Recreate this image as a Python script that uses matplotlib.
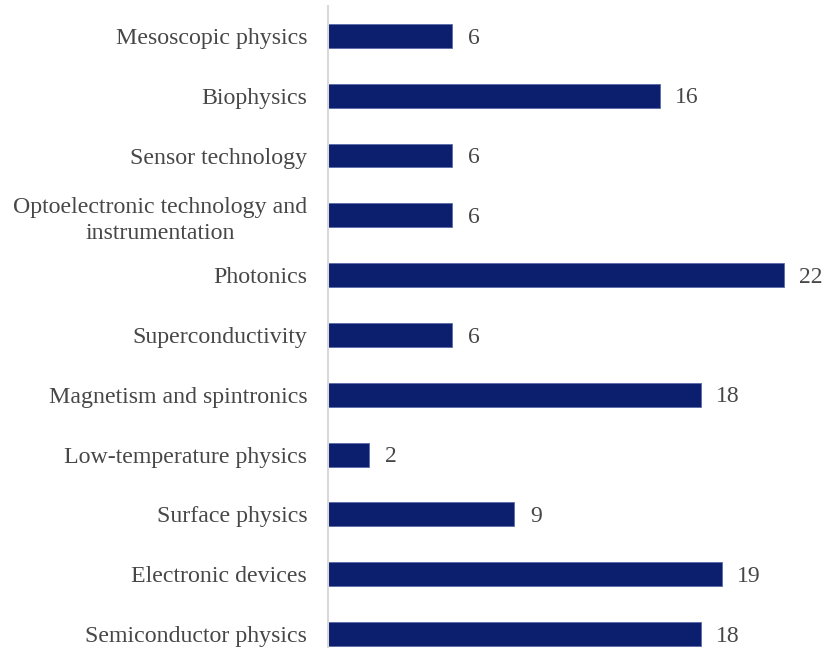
import matplotlib.pyplot as plt

plt.rcParams['font.family'] = ['Liberation Serif', 'DejaVu Serif']

# research fields, listed bottom to top
fields = [
    "Semiconductor physics",
    "Electronic devices",
    "Surface physics",
    "Low-temperature physics",
    "Magnetism and spintronics",
    "Superconductivity",
    "Photonics",
    "Optoelectronic technology and\ninstrumentation",
    "Sensor technology",
    "Biophysics",
    "Mesoscopic physics",
]
counts = [18, 19, 9, 2, 18, 6, 22, 6, 6, 16, 6]

bar_color = "#0C1F6E"
text_color = "#474747"

fig = plt.figure(figsize=(8.27, 6.48), dpi=100)
ax = fig.add_axes([0.3966, -0.0245, 0.6014, 1.0152])

pos = list(range(len(fields)))
ax.barh(pos, counts, height=0.4, color=bar_color,
        edgecolor="#5A6BA8", linewidth=0.6)

# value labels to the right of each bar
for y, c in zip(pos, counts):
    ax.annotate(str(c), (c, y), xytext=(11, -1.5), textcoords="offset points",
                ha="left", va="center", fontsize=17, color=text_color)

ax.set_xlim(0, 24)
ax.set_ylim(-0.5, len(fields) - 0.5)
ax.set_yticks(pos)
ax.set_yticklabels(fields, fontsize=17.2, color=text_color,
                   multialignment="center", linespacing=1.35)
ax.tick_params(axis="y", length=0, pad=15)
ax.set_xticks([])

for side in ["top", "right", "bottom"]:
    ax.spines[side].set_visible(False)
ax.spines["left"].set_color("#D9D9D9")
ax.spines["left"].set_linewidth(1.5)

fig.savefig("out.png", dpi=100)
